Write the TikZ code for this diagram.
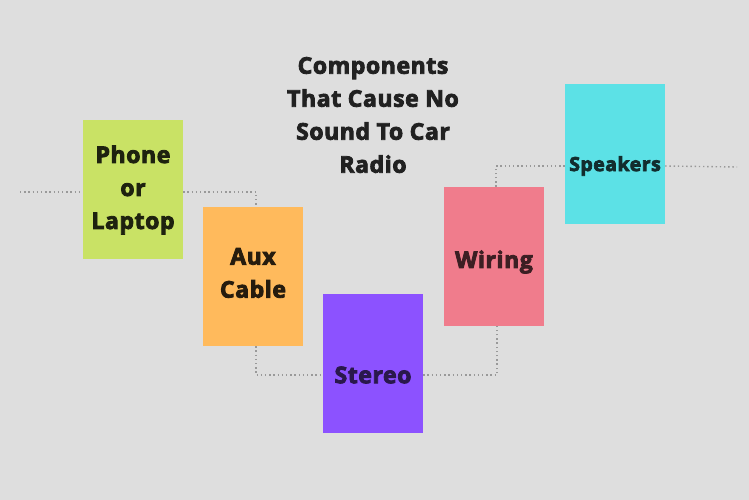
\documentclass[tikz,border=0pt]{standalone}
\usepackage{fontspec}
\setmainfont{Open Sans}[BoldFeatures={FakeBold=3.6, LetterSpace=2.5}]
\definecolor{bg}{RGB}{222,222,222}
\definecolor{phonefill}{RGB}{201,226,101}
\definecolor{auxfill}{RGB}{255,186,92}
\definecolor{stereofill}{RGB}{140,82,255}
\definecolor{wiringfill}{RGB}{240,124,140}
\definecolor{speakerfill}{RGB}{92,225,230}
\tikzstyle{part}=[rectangle, minimum width=100pt, minimum height=139pt, inner sep=0pt]
\tikzstyle{tag}=[align=center, font=\fontsize{23}{33}\selectfont\bfseries, inner sep=0pt]
\tikzstyle{wire}=[line width=1.4pt, color=black!40, dash pattern=on 1.4pt off 2.8pt]

\begin{document}
\begin{tikzpicture}[x=1pt, y=-1pt]
    \fill[bg] (0,0) rectangle (749,500);
    \useasboundingbox (0,0) rectangle (749,500);

    \node (T) at (373,115) [tag, text=black!87] {Components\\That Cause No\\Sound To Car\\Radio};

    \node (P) at (133,189.5) [part, fill=phonefill] {};
    \node (A) at (253,276.5) [part, fill=auxfill] {};
    \node (S) at (373,363.5) [part, fill=stereofill] {};
    \node (W) at (494,256.5) [part, fill=wiringfill] {};
    \node (K) at (615,154) [part, fill=speakerfill] {};

    \node (Pt) at (133,190) [tag, text=phonefill!15!black] {Phone\\or\\Laptop};
    \node (At) at (253,273) [tag, text=auxfill!15!black] {Aux\\Cable};
    \node (St) at (373,375) [tag, text=stereofill!30!black] {Stereo};
    \node (Wt) at (494,262) [tag, text=wiringfill!25!black] {Wiring};
    \node (Kt) at (615,166) [tag, font=\fontsize{19.5}{24}\selectfont\bfseries, text=speakerfill!20!black] {Speakers};

    \coordinate (Lend) at (20,192);
    \coordinate (Rend) at (737,167);

    \draw[wire] (Lend) -- (P.west |- Lend);
    \draw[wire] (P.east |- Lend) -| ([xshift=3pt]A.north);
    \draw[wire] ([xshift=3pt]A.south) |- (S.west |- St);
    \draw[wire] (S.east |- St) -| ([xshift=3pt]W.south);
    \draw[wire] ([xshift=2pt]W.north) |- (K.west |- Kt);
    \draw[wire] (K.east |- Kt) -- (Rend);
\end{tikzpicture}
\end{document}
